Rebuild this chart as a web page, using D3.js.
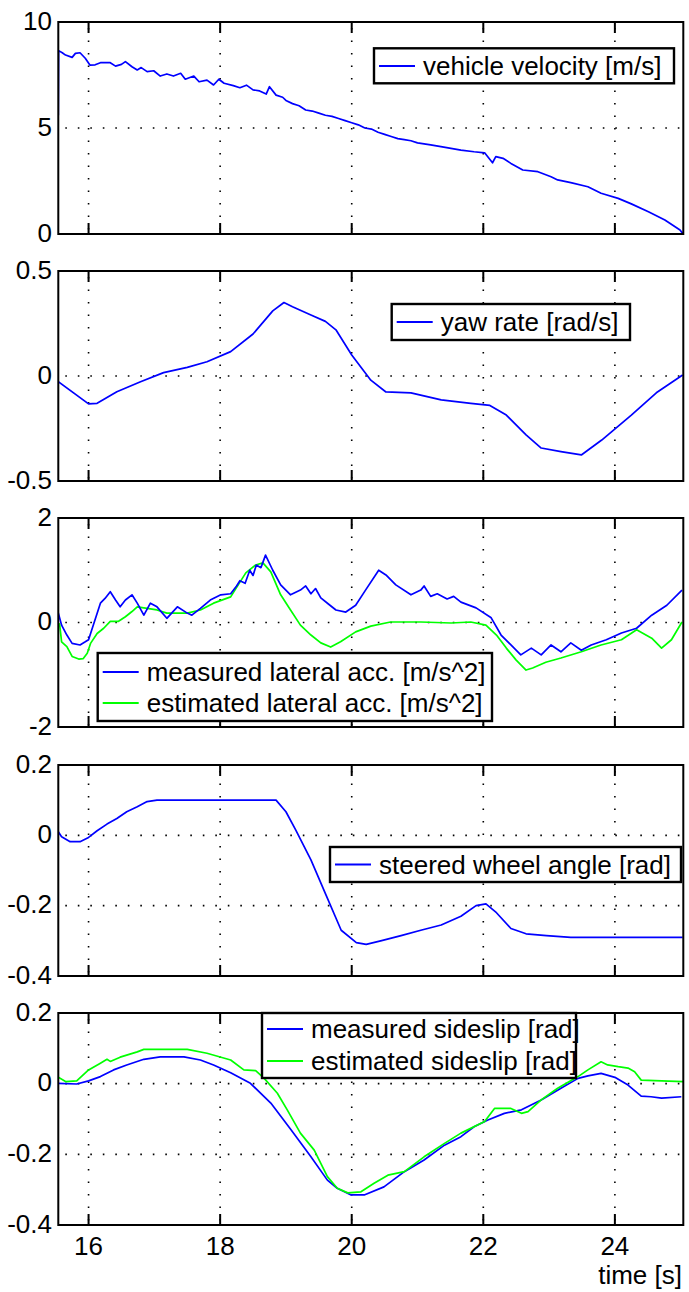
<!DOCTYPE html>
<html><head><meta charset="utf-8">
<script src="https://cdn.jsdelivr.net/npm/d3@7"></script>
<style>
body{margin:0;background:#fff}
svg{display:block}
text{font-family:"Liberation Sans",Arial,sans-serif;fill:#000}
</style>
</head><body>
<svg id="c" width="689" height="1292"></svg>
<script>
// ---------------- DATA ----------------
const xTicks = [16, 18, 20, 22, 24];
const xDomain = [15.54, 25.04];

// Panel 1: vehicle velocity [m/s]
const velT = [15.54,15.545,15.6,15.65,15.75,15.80,15.87,15.95,16.02,16.1,16.18,16.33,16.41,16.5,16.56,16.66,16.74,16.8,16.89,16.99,17.09,17.19,17.29,17.4,17.47,17.6,17.68,17.8,17.9,17.98,18.06,18.2,18.3,18.4,18.5,18.6,18.7,18.75,18.85,18.95,19.0,19.1,19.2,19.3,19.4,19.5,19.6,19.7,19.8,19.9,20.0,20.1,20.2,20.3,20.4,20.5,20.6,20.7,20.8,20.9,21.0,21.2,21.4,21.66,21.86,22.02,22.14,22.19,22.3,22.42,22.6,22.83,23.03,23.13,23.33,23.59,23.79,24.05,24.25,24.51,24.76,24.99,25.03];
const velV = [5.6,8.65,8.55,8.44,8.33,8.52,8.55,8.29,7.97,7.98,8.08,8.08,7.92,8.0,8.13,7.89,7.74,7.85,7.66,7.7,7.45,7.55,7.45,7.58,7.3,7.45,7.18,7.26,7.03,7.3,7.11,7.0,6.9,7.02,6.8,6.75,6.6,6.95,6.55,6.45,6.3,6.15,6.05,5.85,5.8,5.7,5.6,5.55,5.45,5.35,5.25,5.15,5.0,4.95,4.8,4.7,4.6,4.5,4.45,4.4,4.3,4.2,4.1,3.96,3.88,3.83,3.36,3.65,3.57,3.33,3.02,2.94,2.7,2.55,2.42,2.23,1.92,1.68,1.42,1.05,0.66,0.19,0.03];

// Panel 2: yaw rate [rad/s]
const yawT = [15.54,16.0,16.13,16.43,16.79,17.14,17.5,17.8,18.16,18.5,18.8,18.97,19.1,19.38,19.6,19.76,20.0,20.29,20.52,20.9,21.36,21.81,22.1,22.35,22.65,22.88,23.18,23.49,23.8,24.25,24.63,25.03];
const yawV = [-0.027,-0.133,-0.13,-0.075,-0.027,0.016,0.041,0.068,0.116,0.2,0.31,0.35,0.33,0.29,0.26,0.22,0.1,-0.02,-0.076,-0.08,-0.114,-0.13,-0.14,-0.186,-0.28,-0.343,-0.36,-0.376,-0.305,-0.186,-0.08,0.005];

// Panel 3: lateral acceleration [m/s^2]
const accMeasT = [15.54,15.59,15.67,15.75,15.87,15.95,16.0,16.08,16.18,16.25,16.33,16.41,16.48,16.56,16.66,16.74,16.84,16.94,17.04,17.19,17.35,17.5,17.57,17.7,17.85,18.01,18.16,18.25,18.3,18.38,18.45,18.5,18.55,18.62,18.69,18.8,18.92,19.07,19.22,19.3,19.38,19.45,19.53,19.65,19.76,19.91,20.06,20.21,20.41,20.52,20.67,20.9,21.05,21.1,21.2,21.3,21.45,21.55,21.66,21.89,22.12,22.27,22.42,22.57,22.73,22.88,23.03,23.18,23.33,23.49,23.64,23.87,24.1,24.33,24.56,24.79,25.02];
const accMeasV = [0.18,-0.05,-0.24,-0.4,-0.43,-0.37,-0.33,-0.02,0.37,0.46,0.59,0.43,0.3,0.43,0.53,0.37,0.14,0.37,0.3,0.08,0.3,0.18,0.14,0.27,0.43,0.53,0.55,0.7,0.8,0.75,1.0,0.9,1.1,1.05,1.29,1.0,0.72,0.53,0.62,0.7,0.55,0.65,0.47,0.35,0.24,0.2,0.33,0.62,1.0,0.91,0.72,0.53,0.62,0.7,0.5,0.55,0.45,0.5,0.39,0.28,0.09,-0.24,-0.43,-0.62,-0.49,-0.62,-0.43,-0.56,-0.39,-0.53,-0.43,-0.33,-0.2,-0.11,0.14,0.33,0.62];
const accEstT = [15.54,15.56,15.59,15.67,15.75,15.85,15.92,15.98,16.03,16.13,16.23,16.33,16.45,16.56,16.66,16.74,16.89,17.04,17.19,17.35,17.5,17.7,17.9,18.16,18.39,18.54,18.65,18.77,18.92,19.07,19.22,19.38,19.53,19.68,19.83,20.06,20.29,20.59,21.05,21.51,21.81,22.04,22.2,22.35,22.5,22.65,22.75,22.95,23.18,23.49,23.79,24.1,24.33,24.56,24.71,24.86,25.02];
const accEstV = [-0.02,-0.03,-0.37,-0.46,-0.65,-0.7,-0.69,-0.59,-0.4,-0.21,-0.11,0.02,0.02,0.11,0.21,0.3,0.27,0.24,0.18,0.18,0.18,0.24,0.37,0.49,0.95,1.1,1.14,0.97,0.53,0.24,-0.05,-0.24,-0.39,-0.47,-0.37,-0.18,-0.07,0.01,0.01,-0.01,0.01,-0.05,-0.24,-0.49,-0.72,-0.91,-0.87,-0.76,-0.68,-0.56,-0.43,-0.33,-0.14,-0.3,-0.49,-0.33,0.01];

// Panel 4: steered wheel angle [rad]
const steerT = [15.54,15.59,15.72,15.87,16.0,16.13,16.28,16.43,16.58,16.74,16.89,17.04,18.85,19.0,19.15,19.38,19.61,19.84,20.07,20.22,20.44,20.75,21.05,21.36,21.66,21.89,22.04,22.2,22.42,22.65,22.96,23.33,23.79,24.4,25.03];
const steerV = [0.01,-0.004,-0.018,-0.018,-0.006,0.013,0.032,0.048,0.067,0.081,0.096,0.1,0.1,0.067,0.015,-0.07,-0.17,-0.27,-0.305,-0.31,-0.3,-0.285,-0.27,-0.255,-0.23,-0.2,-0.195,-0.22,-0.265,-0.28,-0.285,-0.29,-0.29,-0.29,-0.29];

// Panel 5: sideslip [rad]
const slipMeasT = [15.54,15.82,16.0,16.18,16.38,16.58,16.84,17.09,17.45,17.7,17.9,18.16,18.46,18.77,19.08,19.38,19.63,19.78,19.99,20.19,20.49,20.8,21.1,21.41,21.66,21.86,22.07,22.32,22.58,22.88,23.18,23.44,23.59,23.79,24.0,24.2,24.4,24.55,24.71,25.01];
const slipMeasV = [0.001,-0.001,0.008,0.02,0.039,0.053,0.069,0.076,0.076,0.067,0.053,0.031,0.001,-0.055,-0.131,-0.207,-0.273,-0.296,-0.315,-0.315,-0.292,-0.249,-0.216,-0.174,-0.15,-0.122,-0.103,-0.084,-0.074,-0.046,-0.013,0.015,0.022,0.029,0.018,-0.004,-0.035,-0.037,-0.041,-0.037];
const slipEstT = [15.54,15.65,15.82,16.0,16.18,16.28,16.33,16.48,16.74,16.84,17.5,17.8,18.16,18.36,18.54,18.67,18.87,19.02,19.22,19.43,19.63,19.78,19.94,20.14,20.34,20.55,20.8,21.1,21.41,21.66,22.02,22.17,22.42,22.58,22.68,22.88,23.13,23.44,23.59,23.79,23.89,24.05,24.2,24.3,24.4,24.71,25.04];
const slipEstV = [0.018,0.006,0.008,0.039,0.058,0.069,0.063,0.075,0.09,0.097,0.097,0.086,0.067,0.039,0.037,0.015,-0.027,-0.074,-0.14,-0.188,-0.263,-0.296,-0.309,-0.306,-0.282,-0.259,-0.249,-0.207,-0.169,-0.14,-0.107,-0.07,-0.07,-0.084,-0.079,-0.046,-0.013,0.02,0.039,0.062,0.053,0.048,0.044,0.034,0.01,0.008,0.006];

const yTicks1 = [0, 5, 10];
const yTicks2 = [-0.5, 0, 0.5];
const yTicks3 = [-2, 0, 2];
const yTicks4 = [-0.4, -0.2, 0, 0.2];
const yTicks5 = [-0.4, -0.2, 0, 0.2];

const labels1 = ["vehicle velocity [m/s]"];
const labels2 = ["yaw rate [rad/s]"];
const labels3 = ["measured lateral acc. [m/s^2]", "estimated lateral acc. [m/s^2]"];
const labels4 = ["steered wheel angle [rad]"];
const labels5 = ["measured sideslip [rad]", "estimated sideslip [rad]"];
const xLabel = "time [s]";

// ---------------- LAYOUT ----------------
const BLUE = "#0000ff", GREEN = "#00ff00";
const left = 58.3, right = 683.3;
const zip = (t, v) => t.map((d, i) => [d, v[i]]);

const panels = [
  {top: 22, bottom: 234, ticks: yTicks1, fmt: d => d,
   series: [{data: zip(velT, velV), color: BLUE}],
   legend: {x: 374, y: 48.3, w: 300, h: 35, rows: [66], labels: labels1, colors: [BLUE]}},
  {top: 271, bottom: 481, ticks: yTicks2, fmt: d => d,
   series: [{data: zip(yawT, yawV), color: BLUE}],
   legend: {x: 391.7, y: 304, w: 238.3, h: 36, rows: [322], labels: labels2, colors: [BLUE]}},
  {top: 518, bottom: 727, ticks: yTicks3, fmt: d => d,
   series: [{data: zip(accEstT, accEstV), color: GREEN}, {data: zip(accMeasT, accMeasV), color: BLUE}],
   legend: {x: 97.7, y: 653, w: 394.3, h: 68, rows: [672, 703], labels: labels3, colors: [BLUE, GREEN]}},
  {top: 765, bottom: 976, ticks: yTicks4, fmt: d => d,
   series: [{data: zip(steerT, steerV), color: BLUE}],
   legend: {x: 330, y: 847, w: 351, h: 35, rows: [864.5], labels: labels4, colors: [BLUE]}},
  {top: 1013, bottom: 1225, ticks: yTicks5, fmt: d => d,
   series: [{data: zip(slipMeasT, slipMeasV), color: BLUE}, {data: zip(slipEstT, slipEstV), color: GREEN}],
   legend: {x: 262, y: 1013, w: 314, h: 65, rows: [1029, 1061], labels: labels5, colors: [BLUE, GREEN]}}
];

const svg = d3.select("#c");
const x = d3.scaleLinear().domain(xDomain).range([left, right]);
const FS = 26;

panels.forEach((p, i) => {
  const y = d3.scaleLinear().domain([p.ticks[0], p.ticks[p.ticks.length - 1]]).range([p.bottom, p.top]);
  const g = svg.append("g");
  const clipId = "clip" + i;
  svg.append("clipPath").attr("id", clipId).append("rect")
    .attr("x", left).attr("y", p.top).attr("width", right - left).attr("height", p.bottom - p.top);

  // grid
  const grid = g.append("g").attr("stroke", "#000").attr("stroke-width", 1.6).attr("stroke-dasharray", "1.6,10.9");
  xTicks.forEach(t => {
    grid.append("line").attr("x1", x(t)).attr("x2", x(t)).attr("y1", p.top + 6).attr("y2", p.bottom);
  });
  p.ticks.slice(1, -1).forEach(v => {
    grid.append("line").attr("x1", left + 7).attr("x2", right).attr("y1", y(v)).attr("y2", y(v));
  });

  // series
  const line = d3.line().x(d => x(d[0])).y(d => y(d[1]));
  p.series.forEach(s => {
    g.append("path").datum(s.data).attr("d", line).attr("fill", "none")
      .attr("stroke", s.color).attr("stroke-width", 1.7).attr("stroke-linejoin", "round")
      .attr("clip-path", `url(#${clipId})`);
  });

  // box
  g.append("rect").attr("x", left).attr("y", p.top).attr("width", right - left).attr("height", p.bottom - p.top)
    .attr("fill", "none").attr("stroke", "#000").attr("stroke-width", 2);

  // x ticks top and bottom
  xTicks.forEach(t => {
    g.append("line").attr("x1", x(t)).attr("x2", x(t)).attr("y1", p.top).attr("y2", p.top + 11).attr("stroke", "#000").attr("stroke-width", 2);
    g.append("line").attr("x1", x(t)).attr("x2", x(t)).attr("y1", p.bottom).attr("y2", p.bottom - 11).attr("stroke", "#000").attr("stroke-width", 2);
  });

  // y tick labels
  p.ticks.forEach(v => {
    g.append("text").attr("x", 52).attr("y", y(v) - 1.5).attr("dy", "0.35em")
      .attr("text-anchor", "end").attr("font-size", FS).text(p.fmt(v));
  });

  // legend
  const L = p.legend;
  const lg = g.append("g");
  lg.append("rect").attr("x", L.x).attr("y", L.y).attr("width", L.w).attr("height", L.h)
    .attr("fill", "#fff").attr("stroke", "#000").attr("stroke-width", 2.4);
  L.labels.forEach((lab, k) => {
    lg.append("line").attr("x1", L.x + 5).attr("x2", L.x + 41).attr("y1", L.rows[k]).attr("y2", L.rows[k])
      .attr("stroke", L.colors[k]).attr("stroke-width", 2);
    lg.append("text").attr("x", L.x + 49).attr("y", L.rows[k]).attr("dy", "0.35em")
      .attr("font-size", FS).text(lab);
  });
});

// x tick labels (bottom panel only)
const last = panels[panels.length - 1];
xTicks.forEach(t => {
  svg.append("text").attr("x", x(t)).attr("y", last.bottom + 30).attr("text-anchor", "middle")
    .attr("font-size", FS).text(t);
});
svg.append("text").attr("x", 682).attr("y", 1284).attr("text-anchor", "end").attr("font-size", FS).text(xLabel);
</script>
</body></html>
